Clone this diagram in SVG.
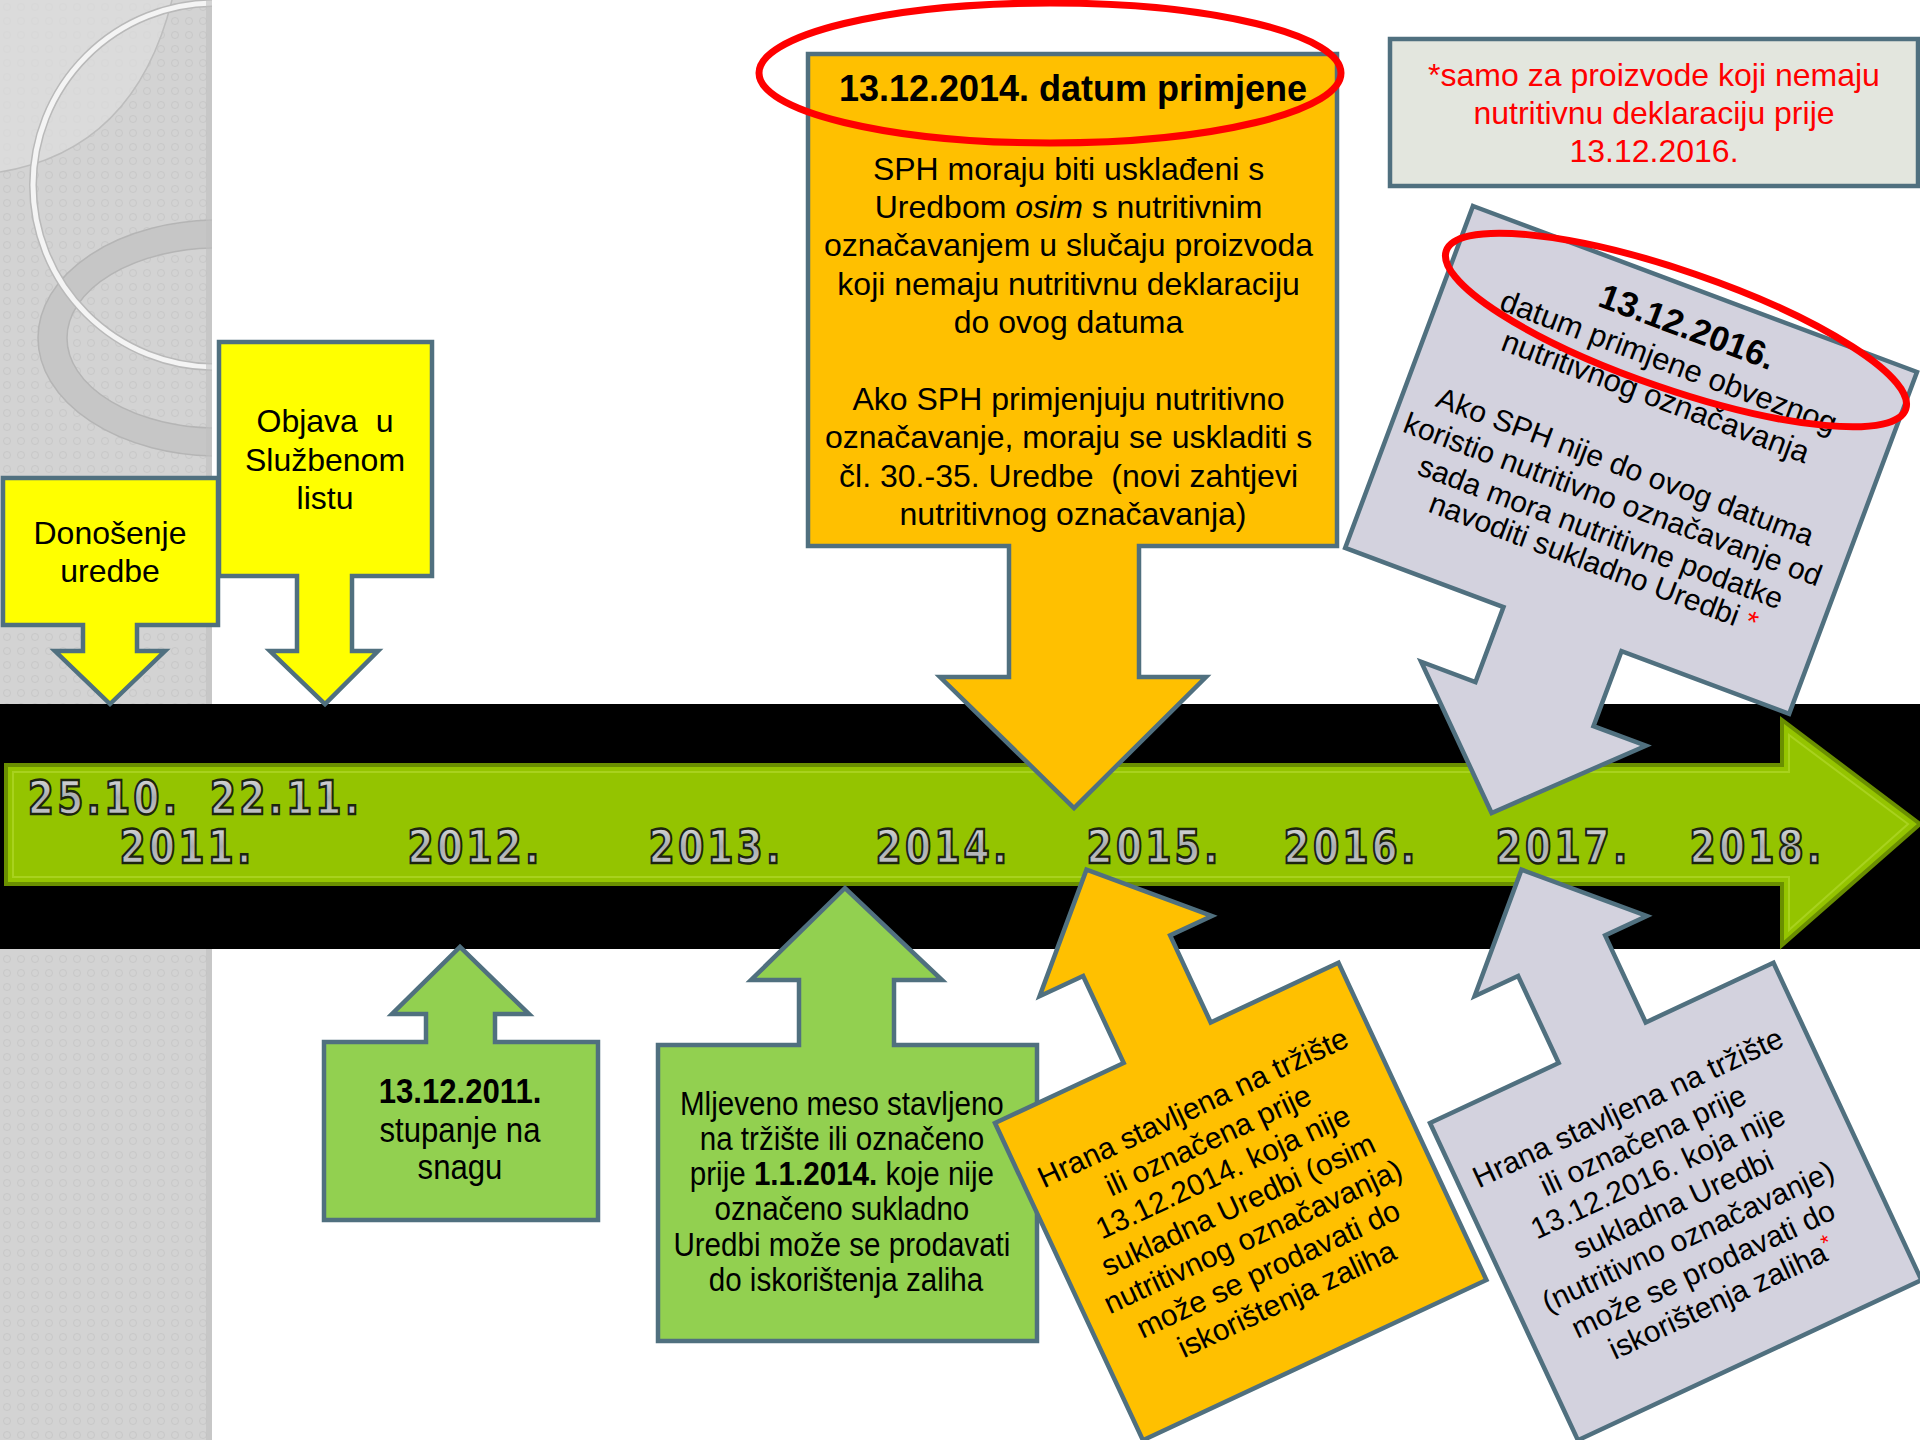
<svg xmlns="http://www.w3.org/2000/svg" width="1920" height="1440" viewBox="0 0 1920 1440">
<defs>
<style>
.box{stroke:#50707F;stroke-width:4.5;stroke-linejoin:miter}
.yel{fill:#FFFF00}
.org{fill:#FFC000}
.grn{fill:#92D050}
.gry{fill:#D3D2DE}
.note{fill:#E3E6DE}
.t{font-family:"Liberation Sans",Arial,sans-serif;fill:#000;text-anchor:middle}
.red{fill:#FF0000}
.ring{fill:none;stroke:#FF0000;stroke-width:7}
.yr{font-family:"DejaVu Sans",sans-serif;font-weight:bold;font-size:47px;letter-spacing:4px;fill:url(#silver);stroke:#1c2410;stroke-width:2.4;text-anchor:middle}
</style>
<linearGradient id="silver" x1="0" y1="0" x2="0" y2="1">
<stop offset="0" stop-color="#e8e8e8"/>
<stop offset="0.5" stop-color="#a9adb0"/>
<stop offset="1" stop-color="#d0d0d0"/>
</linearGradient>
<pattern id="tex" width="14" height="14" patternUnits="userSpaceOnUse">
<rect width="14" height="14" fill="#d3d3d3"/>
<circle cx="7" cy="7" r="3.5" fill="none" stroke="#c7c7c7" stroke-width="1"/>
</pattern>
<clipPath id="strip"><rect x="0" y="0" width="212" height="1440"/></clipPath>
</defs>

<rect x="0" y="0" width="1920" height="1440" fill="#FFFFFF"/>

<g id="background-strip" clip-path="url(#strip)">
<rect x="0" y="0" width="212" height="1440" fill="url(#tex)"/>
<path d="M0,0 L172,0 Q135,150 0,172 Z" fill="#dedede" opacity="0.7"/>
<path d="M172,0 Q135,150 0,172" fill="none" stroke="#bdbdbd" stroke-width="1.5"/>
<path d="M38,338 a180,118 0 1,0 360,0 a180,118 0 1,0 -360,0 Z M67,338 a151,90 0 1,0 302,0 a151,90 0 1,0 -302,0 Z" fill="#c6c6c6" fill-rule="evenodd" stroke="#b5b5b5" stroke-width="1.5"/>
<circle cx="215" cy="185" r="182" fill="none" stroke="#b9b9b9" stroke-width="8"/>
<circle cx="215" cy="185" r="182" fill="none" stroke="#f4f4f4" stroke-width="5"/>
<rect x="206" y="0" width="6" height="1440" fill="#bfbfbf" opacity="0.6"/>
</g>

<rect id="black-band" x="0" y="704" width="1920" height="245" fill="#000000"/>

<g id="timeline">
<path d="M6,765 L1782,765 L1782,720 L1920,824 L1782,945 L1782,884 L6,884 Z" fill="#94C400" stroke="#6A8F00" stroke-width="4"/>
<path d="M13,772 L1789,772 L1789,735 L1908,824 L1789,930 L1789,877 L13,877 Z" fill="none" stroke="#A8D21E" stroke-width="2"/>
<text class="yr" transform="translate(104,814) scale(0.8,1)">25.10.</text>
<text class="yr" transform="translate(286,814) scale(0.8,1)">22.11.</text>
<text class="yr" transform="translate(187,863) scale(0.8,1)">2011.</text>
<text class="yr" transform="translate(475,863) scale(0.8,1)">2012.</text>
<text class="yr" transform="translate(716,863) scale(0.8,1)">2013.</text>
<text class="yr" transform="translate(943,863) scale(0.8,1)">2014.</text>
<text class="yr" transform="translate(1154,863) scale(0.8,1)">2015.</text>
<text class="yr" transform="translate(1351,863) scale(0.8,1)">2016.</text>
<text class="yr" transform="translate(1563,863) scale(0.8,1)">2017.</text>
<text class="yr" transform="translate(1757,863) scale(0.8,1)">2018.</text>
</g>

<g id="connectors"></g>

<g id="objava">
<path class="box yel" d="M219,342 L432,342 L432,576 L352,576 L352,651 L378,651 L325,704 L270,651 L297,651 L297,576 L219,576 Z"/>
<text class="t" font-size="32" style="white-space:pre"><tspan x="325" y="432">Objava  u</tspan><tspan x="325" y="471">Službenom</tspan><tspan x="325" y="509">listu</tspan></text>
</g>

<g id="donosenje">
<path class="box yel" d="M3,478 L218,478 L218,625 L137,625 L137,651 L165,651 L110,704 L55,651 L83,651 L83,625 L3,625 Z"/>
<text class="t" font-size="32"><tspan x="110" y="544">Donošenje</tspan><tspan x="110" y="582">uredbe</tspan></text>
</g>

<g id="primjena-2014">
<path class="box org" d="M808,54 L1337,54 L1337,546 L1139,546 L1139,677 L1206,677 L1074,808 L940,677 L1009,677 L1009,546 L808,546 Z"/>
<text class="t" font-size="36" font-weight="bold" x="1073" y="101">13.12.2014. datum primjene</text>
<text class="t" font-size="32">
<tspan x="1073" y="180">SPH moraju biti usklađeni s</tspan>
<tspan x="1073" y="218">Uredbom <tspan font-style="italic">osim</tspan> s nutritivnim</tspan>
<tspan x="1073" y="256">označavanjem u slučaju proizvoda</tspan>
<tspan x="1073" y="295">koji nemaju nutritivnu deklaraciju</tspan>
<tspan x="1073" y="333">do ovog datuma</tspan>
<tspan x="1073" y="410">Ako SPH primjenjuju nutritivno</tspan>
<tspan x="1073" y="448">označavanje, moraju se uskladiti s</tspan>
<tspan x="1073" y="487" style="white-space:pre">čl. 30.-35. Uredbe  (novi zahtjevi</tspan>
<tspan x="1073" y="525">nutritivnog označavanja)</tspan>
</text>
<ellipse class="ring" cx="1050" cy="73" rx="291" ry="70"/>
</g>

<g id="napomena">
<rect class="box note" x="1390" y="39" width="528" height="147"/>
<text class="t red" font-size="32"><tspan x="1654" y="86">*samo za proizvode koji nemaju</tspan><tspan x="1654" y="124">nutritivnu deklaraciju prije</tspan><tspan x="1654" y="162">13.12.2016.</tspan></text>
</g>

<g id="primjena-2016">
<g transform="translate(1473,206) rotate(20.5)">
<path class="box gry" d="M0,0 L474,0 L474,365 L295,365 L295,445 L351,445 L230,562 L111,445 L169,445 L169,365 L0,365 Z"/>
<text class="t" font-size="35" font-weight="bold" x="243" y="50">13.12.2016.</text>
<text class="t" font-size="31"><tspan x="238" y="88">datum primjene obveznog</tspan><tspan x="238" y="125">nutritivnog označavanja</tspan></text>
<text class="t" font-size="30">
<tspan x="238" y="201">Ako SPH nije do ovog datuma</tspan>
<tspan x="238" y="236">koristio nutritivno označavanje od</tspan>
<tspan x="238" y="271">sada mora nutritivne podatke</tspan>
<tspan x="238" y="302">navoditi sukladno Uredbi <tspan class="red">*</tspan></tspan>
</text>
</g>
<ellipse class="ring" cx="1676" cy="330" rx="243" ry="59" transform="rotate(19 1676 330)"/>
</g>

<g id="stupanje-2011">
<path class="box grn" d="M324,1042 L426,1042 L426,1014 L392,1014 L460,947 L529,1014 L495,1014 L495,1042 L598,1042 L598,1220 L324,1220 Z"/>
<text class="t" font-size="36" transform="translate(460,0) scale(0.865,1)"><tspan x="0" y="1103" font-weight="bold">13.12.2011.</tspan><tspan x="0" y="1142">stupanje na</tspan><tspan x="0" y="1179">snagu</tspan></text>
</g>

<g id="mljeveno-meso">
<path class="box grn" d="M658,1045 L799,1045 L799,980 L751,980 L845,888 L942,980 L894,980 L894,1045 L1037,1045 L1037,1341 L658,1341 Z"/>
<text class="t" font-size="34" transform="translate(846,0) scale(0.87,1)">
<tspan x="0" y="1115">Mljeveno meso stavljeno</tspan>
<tspan x="0" y="1150">na tržište ili označeno</tspan>
<tspan x="0" y="1185">prije <tspan font-weight="bold">1.1.2014.</tspan> koje nije</tspan>
<tspan x="0" y="1220">označeno sukladno</tspan>
<tspan x="0" y="1256">Uredbi može se prodavati</tspan>
<tspan x="0" y="1291">do iskorištenja zaliha</tspan>
</text>
</g>

<g id="zalihe-2014" transform="translate(995,1123) rotate(-25)">
<path class="box org" d="M0,0 L142,0 L142,-96 L94,-96 L190,-191 L284,-96 L238,-96 L238,0 L379,0 L379,350 L0,350 Z"/>
<text class="t" font-size="30">
<tspan x="190" y="80">Hrana stavljena na tržište</tspan>
<tspan x="190" y="116">ili označena prije</tspan>
<tspan x="190" y="151">13.12.2014. koja nije</tspan>
<tspan x="190" y="187">sukladna Uredbi (osim</tspan>
<tspan x="190" y="222">nutritivnog označavanja)</tspan>
<tspan x="190" y="258">može se prodavati do</tspan>
<tspan x="190" y="293">iskorištenja zaliha</tspan>
</text>
</g>

<g id="zalihe-2016" transform="translate(1430,1123) rotate(-25)">
<path class="box gry" d="M0,0 L142,0 L142,-96 L94,-96 L190,-191 L284,-96 L238,-96 L238,0 L379,0 L379,350 L0,350 Z"/>
<text class="t" font-size="30">
<tspan x="190" y="80">Hrana stavljena na tržište</tspan>
<tspan x="190" y="116">ili označena prije</tspan>
<tspan x="190" y="151">13.12.2016. koja nije</tspan>
<tspan x="190" y="187">sukladna Uredbi</tspan>
<tspan x="190" y="222">(nutritivno označavanje)</tspan>
<tspan x="190" y="258">može se prodavati do</tspan>
<tspan x="190" y="293">iskorištenja zaliha<tspan class="red" font-size="22" dy="-10">*</tspan></tspan>
</text>
</g>
</svg>
